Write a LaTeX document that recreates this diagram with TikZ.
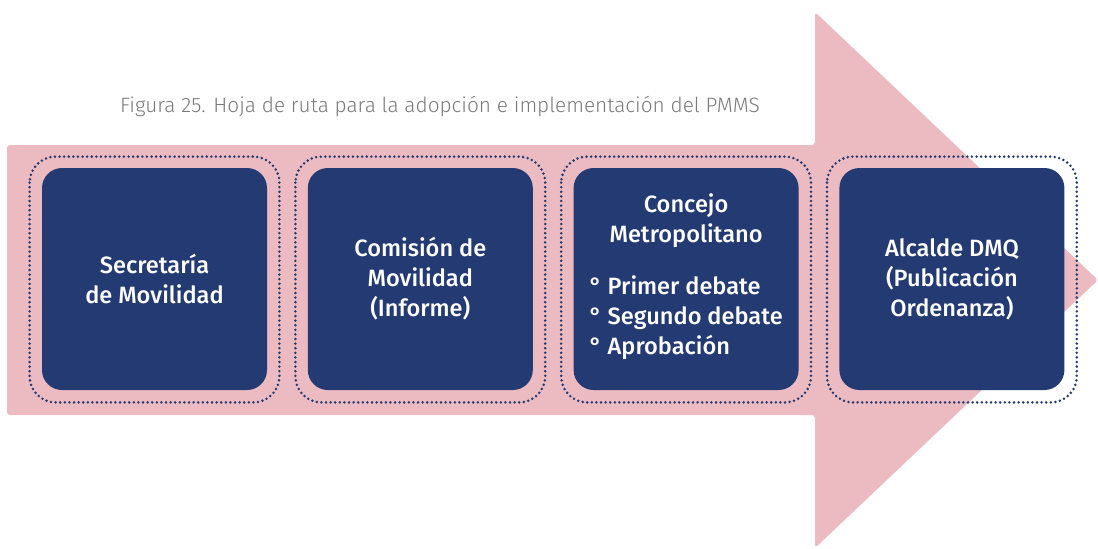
\documentclass[tikz,border=0pt]{standalone}
\usepackage{fontspec}
\setmainfont{Fira Sans}
\newfontfamily\boxfont{Fira Sans Medium}
\newfontfamily\titlefont{Fira Sans Light}
\usepackage{tikz}
\usetikzlibrary{positioning}
\definecolor{navy}{HTML}{243A73}
\definecolor{rose}{HTML}{EBBBC1}
\definecolor{caption}{HTML}{7A7A7A}

\begin{document}
\begin{tikzpicture}[x=0.5pt,y=-0.5pt,
  stagebox/.style={rectangle,rounded corners=10pt,fill=navy,text=white,minimum width=112.5pt,minimum height=111pt,align=center,font=\boxfont\fontsize{11.8}{15}\selectfont,inner sep=2pt},
  dotring/.style={draw=navy,line width=1.4pt,dash pattern=on 0pt off 2.3pt,line cap=round,rounded corners=13pt},
  node distance=20pt]
\useasboundingbox (0,0) rectangle (1098,548);
% big arrow behind the stages
\fill[rose,rounded corners=1.5pt] (7,145) -- (815,145) -- (815,12) -- (1098,280) -- (815,548) -- (815,415) -- (7,415) -- cycle;
\node[font=\titlefont\fontsize{10.4}{12}\selectfont,text=caption,anchor=base] (title) at (440,112) {Figura 25. Hoja de ruta para la adopción e implementación del PMMS};
% stages
\node[stagebox] (b1) at (154.5,279) {Secretaría\\de Movilidad};
\node[stagebox,right=of b1] (b2) {Comisión de\\Movilidad\\(Informe)};
\node[stagebox,right=of b2] (b3) {Concejo\\Metropolitano\\[11pt]\begin{tabular}[t]{@{}l@{}}° Primer debate\\° Segundo debate\\° Aprobación\end{tabular}};
\node[stagebox,right=of b3] (b4) {Alcalde DMQ\\(Publicación\\Ordenanza)};
\foreach \b in {b1,b2,b3,b4}
  \draw[dotring] ([shift={(-12,-11)}]\b.north west) rectangle ([shift={(12,12)}]\b.south east);
\end{tikzpicture}
\end{document}
